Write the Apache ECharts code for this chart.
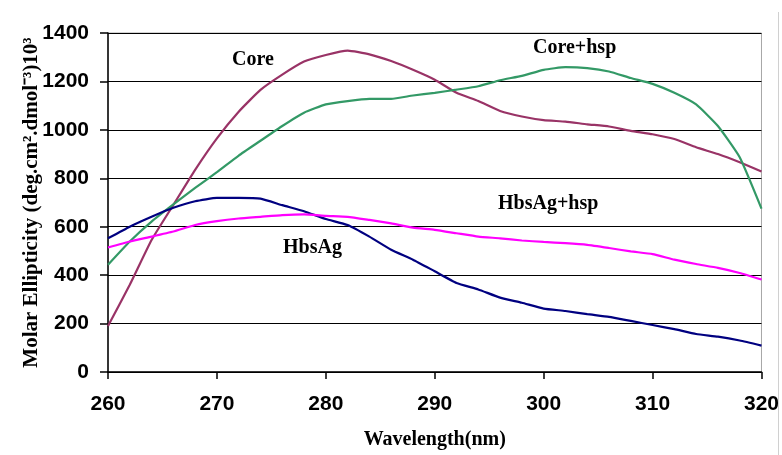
<!DOCTYPE html>
<html>
<head>
<meta charset="utf-8">
<script src="https://cdn.jsdelivr.net/npm/echarts@6/dist/echarts.min.js"></script>
<style>
  html, body { margin: 0; padding: 0; background: #fff; }
  #chart { width: 782px; height: 455px; }
</style>
</head>
<body>
<div id="chart"></div>
<script>
// wavelength (nm), sampled every 2 nm
const wavelength = [260, 262, 264, 266, 268, 270, 272, 274, 276, 278, 280, 282, 284, 286, 288, 290,
  292, 294, 296, 298, 300, 302, 304, 306, 308, 310, 312, 314, 316, 318, 320];

const core = [190, 360, 545, 690, 835, 965, 1075, 1165, 1228, 1282, 1309, 1327, 1312, 1284, 1248, 1207,
  1153, 1119, 1078, 1055, 1040, 1034, 1023, 1014, 996, 982, 962, 928, 900, 866, 828];

const coreHsp = [443, 539, 621, 692, 760, 825, 894, 955, 1016, 1071, 1105, 1119, 1128, 1128, 1142, 1153,
  1166, 1180, 1205, 1223, 1248, 1259, 1255, 1241, 1214, 1190, 1153, 1105, 1016, 887, 675];

const hbsAg = [552, 600, 641, 678, 705, 719, 719, 716, 689, 664, 632, 607, 559, 505, 464, 416,
  368, 341, 307, 286, 262, 252, 239, 228, 211, 194, 177, 157, 146, 130, 109];

const hbsAgHsp = [514, 539, 559, 580, 607, 623, 634, 641, 648, 651, 645, 641, 628, 614, 596, 587,
  573, 559, 552, 543, 537, 532, 525, 512, 498, 487, 464, 446, 430, 409, 382];

const seriesNames = ['Core', 'Core+hsp', 'HbsAg', 'HbsAg+hsp'];
const seriesColors = ['#993366', '#339966', '#000080', '#ff00ff'];
const seriesValues = [core, coreHsp, hbsAg, hbsAgHsp];

let chartDom = document.getElementById('chart');
let myChart = echarts.init(chartDom);

const labelFont = {
  fontFamily: '"Liberation Serif", "Times New Roman", serif',
  fontWeight: 'bold',
  fontSize: 20,
  fill: '#000'
};

let option = {
  animation: false,
  backgroundColor: '#fff',
  grid: {
    left: 108,
    right: 19,
    top: 33,
    bottom: 80,
    show: true,
    borderColor: '#a6a6a6',
    borderWidth: 1
  },
  xAxis: {
    type: 'value',
    min: 260,
    max: 320,
    interval: 10,
    name: 'Wavelength(nm)',
    nameLocation: 'middle',
    nameGap: 58,
    nameTextStyle: {
      fontFamily: '"Liberation Serif", "Times New Roman", serif',
      fontWeight: 'bold',
      fontSize: 20,
      color: '#000'
    },
    axisLine: { lineStyle: { color: '#000', width: 1.5 } },
    axisTick: { show: true, length: 7, lineStyle: { color: '#000', width: 1.5 } },
    axisLabel: {
      margin: 22,
      fontFamily: '"Liberation Sans", Arial, sans-serif',
      fontWeight: 'bold',
      fontSize: 21,
      color: '#000',
      formatter: function (v) { return String(v); }
    },
    splitLine: { show: false }
  },
  yAxis: {
    type: 'value',
    min: 0,
    max: 1400,
    interval: 200,
    name: 'Molar Ellipticity (deg.cm².dmol⁻³)10³',
    nameLocation: 'middle',
    nameGap: 66,
    nameMoveOverlap: false,
    nameTextStyle: {
      fontFamily: '"Liberation Serif", "Times New Roman", serif',
      fontWeight: 'bold',
      fontSize: 21,
      color: '#000'
    },
    axisLine: { show: true, lineStyle: { color: '#000', width: 1.5 } },
    axisTick: { show: true, length: 8, lineStyle: { color: '#000', width: 1.5 } },
    axisLabel: {
      margin: 19,
      fontFamily: '"Liberation Sans", Arial, sans-serif',
      fontWeight: 'bold',
      fontSize: 21,
      color: '#000',
      formatter: function (v) { return String(v); }
    },
    splitLine: { show: true, lineStyle: { color: '#000', width: 1.2 } }
  },
  graphic: [
    { type: 'text', left: 232, top: 50, style: Object.assign({ text: 'Core' }, labelFont) },
    { type: 'text', left: 533, top: 38, style: Object.assign({ text: 'Core+hsp' }, labelFont) },
    { type: 'text', left: 498, top: 194, style: Object.assign({ text: 'HbsAg+hsp' }, labelFont) },
    { type: 'text', left: 283, top: 238, style: Object.assign({ text: 'HbsAg' }, labelFont) },
    { type: 'line', shape: { x1: 778.5, y1: 12, x2: 778.5, y2: 455 }, style: { stroke: '#d0d0d0', lineWidth: 1 } }
  ],
  series: seriesNames.map(function (name, i) {
    return {
      name: name,
      type: 'line',
      data: wavelength.map(function (w, j) { return [w, seriesValues[i][j]]; }),
      color: seriesColors[i],
      lineStyle: { width: 2.2 },
      showSymbol: false,
      smooth: 0.15
    };
  })
};

myChart.setOption(option);
</script>
</body>
</html>
